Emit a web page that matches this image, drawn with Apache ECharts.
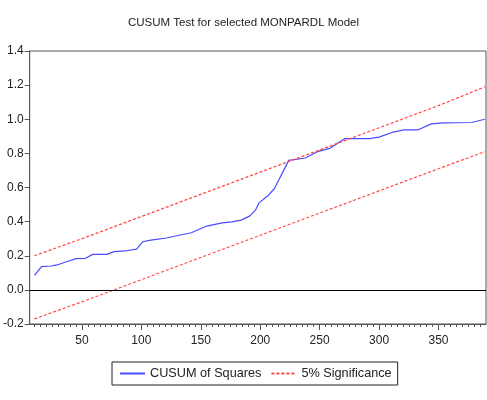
<!DOCTYPE html>
<html>
<head>
<meta charset="utf-8">
<script src="https://cdn.jsdelivr.net/npm/echarts@6/dist/echarts.min.js"></script>
<style>
  html, body { margin: 0; padding: 0; background: #fff; }
  #chart { width: 487px; height: 400px; }
</style>
</head>
<body>
<div id="chart"></div>
<script>
  // CUSUM of squares
  var cusumX = [10, 16, 24, 29, 37, 45, 53, 59, 71, 77, 86, 96, 101, 108, 121, 142, 155, 168, 176, 184,
                191, 196, 199, 207, 212, 224, 238, 249, 259, 271, 292, 300, 312, 321, 333, 344, 354, 378, 389];
  var cusumY = [0.085, 0.136, 0.140, 0.146, 0.165, 0.183, 0.185, 0.208, 0.208, 0.224, 0.228, 0.239, 0.282, 0.292, 0.304, 0.335, 0.374, 0.393, 0.399, 0.409,
                0.432, 0.467, 0.510, 0.555, 0.594, 0.759, 0.773, 0.812, 0.831, 0.886, 0.886, 0.895, 0.925, 0.938, 0.938, 0.973, 0.979, 0.981, 1.000];

  // 5% significance bands
  var bandX = [10, 50, 100, 150, 200, 250, 300, 350, 389];
  var upperY = [0.20, 0.30, 0.43, 0.56, 0.69, 0.82, 0.95, 1.08, 1.19];
  var lowerY = [-0.17, -0.07, 0.06, 0.19, 0.32, 0.45, 0.58, 0.71, 0.81];

  var xLabels = [50, 100, 150, 200, 250, 300, 350];
  var xMinorTicks = [];
  for (var t = 10; t <= 385; t += 5) xMinorTicks.push(t);

  function pairs(xs, ys) {
    return xs.map(function (x, i) { return [x, ys[i]]; });
  }

  var font = 'Liberation Sans, Arial, sans-serif';
  var chart = echarts.init(document.getElementById('chart'));
  var option = {
    backgroundColor: '#fff',
    animation: false,
    title: {
      text: 'CUSUM Test for selected MONPARDL Model',
      left: 'center',
      top: 12,
      textStyle: { fontFamily: font, fontSize: 11.5, fontWeight: 'normal', color: '#222' }
    },
    grid: {
      left: 28, right: 1, top: 51, bottom: 76,
      show: true, borderColor: '#555', borderWidth: 1
    },
    legend: {
      bottom: 15,
      left: 112,
      itemGap: 9,
      itemWidth: 25,
      itemHeight: 10,
      padding: [5, 6, 5, 7],
      borderColor: '#222',
      borderWidth: 1,
      itemStyle: { opacity: 0 },
      textStyle: { fontFamily: font, fontSize: 12.7, color: '#222' },
      data: ['CUSUM of Squares', '5% Significance']
    },
    xAxis: [{
      type: 'value',
      min: 6,
      max: 390,
      splitLine: { show: false },
      axisLine: { onZero: false, lineStyle: { color: '#555' } },
      axisTick: { customValues: xMinorTicks, length: 3, lineStyle: { color: '#555' } },
      axisLabel: { customValues: xLabels, margin: 11, fontFamily: font, fontSize: 12, color: '#222' }
    }, {
      type: 'value',
      min: 6,
      max: 390,
      position: 'bottom',
      splitLine: { show: false },
      axisLine: { show: false, onZero: false },
      axisTick: { customValues: xLabels, length: 6, lineStyle: { color: '#555' } },
      axisLabel: { show: false }
    }],
    yAxis: {
      type: 'value',
      min: -0.2,
      max: 1.4,
      interval: 0.2,
      splitLine: { show: false },
      axisLine: { show: true, lineStyle: { color: '#555' } },
      axisTick: { show: true, length: 5, lineStyle: { color: '#555' } },
      axisLabel: {
        margin: 6, fontFamily: font, fontSize: 12, color: '#222',
        formatter: function (v) { return v.toFixed(1); }
      }
    },
    series: [{
      name: 'CUSUM of Squares',
      type: 'line',
      symbol: 'none',
      lineStyle: { color: '#4a4aff', width: 1.2 },
      itemStyle: { color: '#0000ff' },
      data: pairs(cusumX, cusumY),
      markLine: {
        silent: true,
        symbol: 'none',
        label: { show: false },
        lineStyle: { color: '#000', width: 1, type: 'solid' },
        data: [{ yAxis: 0 }]
      }
    }, {
      name: '5% Significance',
      type: 'line',
      symbol: 'none',
      lineStyle: { color: '#ff4848', width: 1.2, type: [3, 2] },
      itemStyle: { color: '#ff0000' },
      data: pairs(bandX, upperY)
    }, {
      name: '5% Significance',
      type: 'line',
      symbol: 'none',
      lineStyle: { color: '#ff4848', width: 1.2, type: [3, 2] },
      itemStyle: { color: '#ff0000' },
      data: pairs(bandX, lowerY)
    }]
  };
  chart.setOption(option);
</script>
</body>
</html>
